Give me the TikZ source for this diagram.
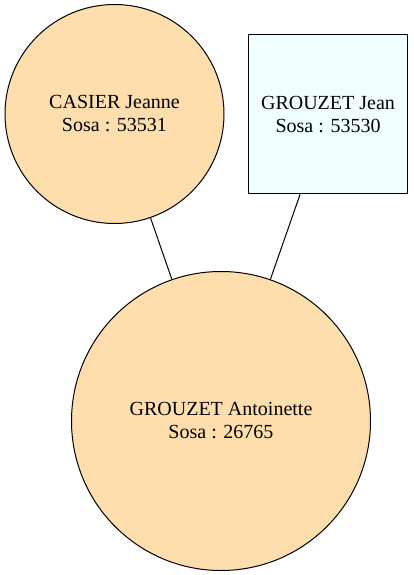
\documentclass[tikz,border=0pt]{standalone}
\usepackage{fontspec}
\setmainfont{Liberation Serif}
\definecolor{navajo}{RGB}{255,222,173}
\definecolor{azurefill}{RGB}{240,255,255}
\begin{document}
\begin{tikzpicture}[x=1pt,y=-1pt,
  person/.style={draw=black,line width=1pt,inner sep=0pt,align=center,
    font=\fontsize{20}{23}\selectfont},
  female/.style={person,circle,fill=navajo},
  male/.style={person,rectangle,fill=azurefill},
  link/.style={draw=black,line width=1pt}]
\useasboundingbox (0,0) rectangle (413,575);
\node[female,minimum size=219pt] (casier) at (114.5,114) {CASIER Jeanne\\Sosa : 53531};
\node[male,minimum width=158.6pt,minimum height=158.7pt] (jean) at (328,114.3) {GROUZET Jean\\Sosa : 53530};
\node[female,minimum size=299pt] (antoinette) at (221,421) {GROUZET Antoinette\\Sosa : 26765};
\draw[link] (casier) -- (antoinette);
\draw[link] (jean) -- (antoinette);
\end{tikzpicture}
\end{document}
